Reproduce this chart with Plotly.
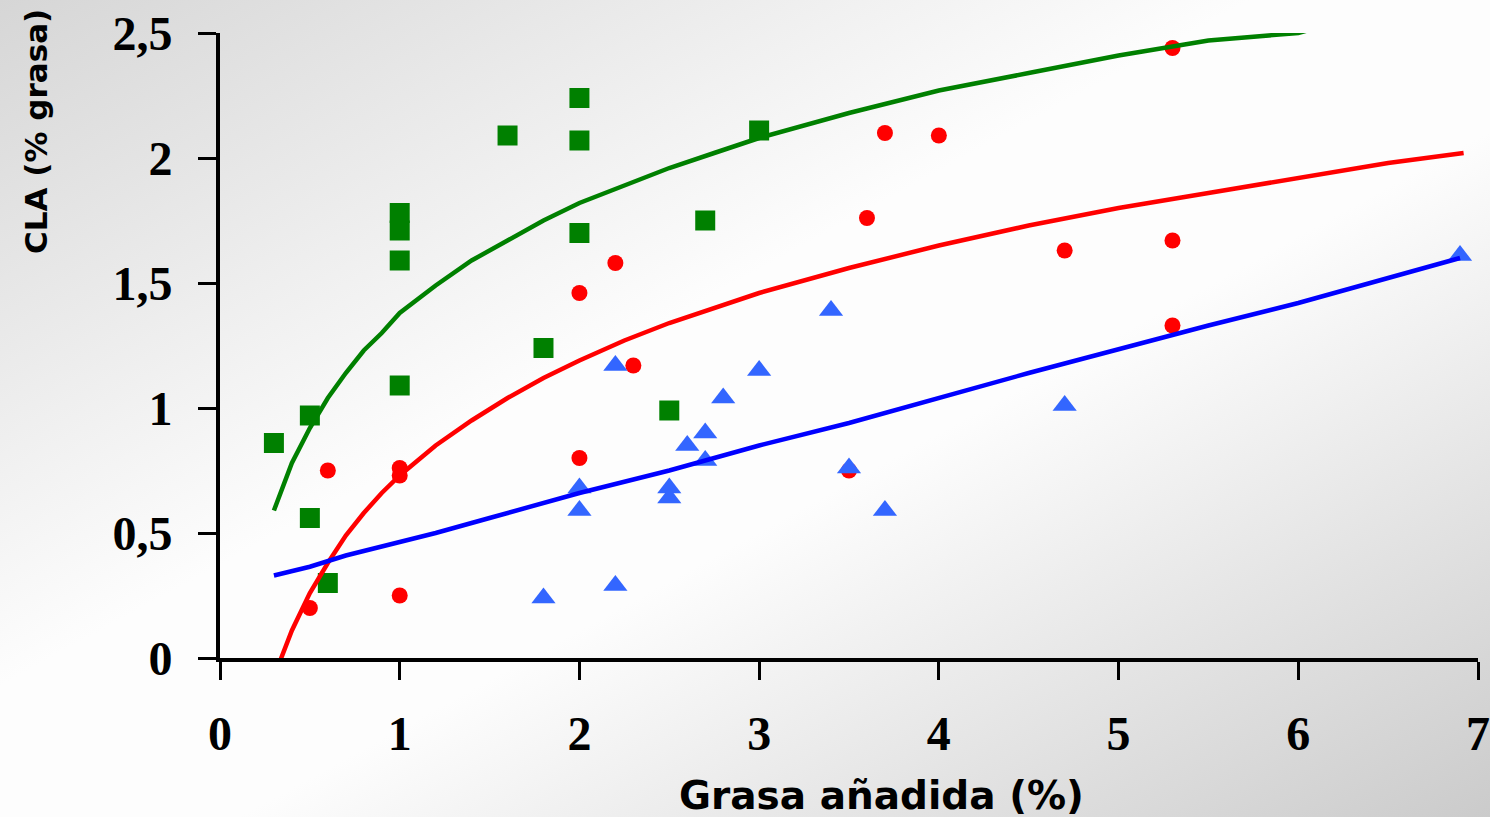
import base64
import plotly.graph_objects as go

# ---------------- data ----------------
green_x = [0.3, 0.5, 0.5, 0.6, 1.0, 1.0, 1.0, 1.0, 1.6, 1.8, 2.0, 2.0, 2.0, 2.5, 2.7, 3.0]
green_y = [0.86, 0.97, 0.56, 0.30, 1.78, 1.71, 1.59, 1.09, 2.09, 1.24, 2.24, 2.07, 1.70, 0.99, 1.75, 2.11]

red_x = [0.5, 0.6, 1.0, 1.0, 1.0, 2.0, 2.0, 2.2, 2.3, 3.5, 3.6, 3.7, 4.0, 4.7, 5.3, 5.3, 5.3]
red_y = [0.20, 0.75, 0.76, 0.73, 0.25, 0.80, 1.46, 1.58, 1.17, 0.75, 1.76, 2.10, 2.09, 1.63, 2.44, 1.67, 1.33]

blue_x = [1.8, 2.0, 2.0, 2.2, 2.2, 2.5, 2.5, 2.6, 2.7, 2.7, 2.8, 3.0, 3.4, 3.5, 3.7, 4.7, 6.9]
blue_y = [0.24, 0.68, 0.59, 1.17, 0.29, 0.68, 0.64, 0.85, 0.90, 0.79, 1.04, 1.15, 1.39, 0.76, 0.59, 1.01, 1.61]

# trend curves
green_line_x = [0.3, 0.4, 0.5, 0.6, 0.7, 0.8, 0.9, 1.0, 1.2, 1.4, 1.6, 1.8, 2.0, 2.25, 2.5, 2.75,
                3.0, 3.5, 4.0, 4.5, 5.0, 5.5, 6.0, 6.05]
green_line_y = [0.59, 0.78, 0.92, 1.04, 1.14, 1.23, 1.30, 1.38, 1.49, 1.59, 1.67, 1.75, 1.82, 1.89,
                1.96, 2.02, 2.08, 2.18, 2.27, 2.34, 2.41, 2.47, 2.50, 2.51]

red_line_x = [0.33, 0.4, 0.5, 0.6, 0.7, 0.8, 0.9, 1.0, 1.2, 1.4, 1.6, 1.8, 2.0, 2.25, 2.5, 2.75,
              3.0, 3.5, 4.0, 4.5, 5.0, 5.5, 6.0, 6.5, 6.92]
red_line_y = [-0.02, 0.11, 0.26, 0.38, 0.49, 0.58, 0.66, 0.73, 0.85, 0.95, 1.04, 1.12, 1.19, 1.27,
              1.34, 1.40, 1.46, 1.56, 1.65, 1.73, 1.80, 1.86, 1.92, 1.98, 2.02]

blue_line_x = [0.3, 0.5, 0.7, 1.0, 1.2, 1.5, 2.0, 2.5, 3.0, 3.5, 4.0, 4.5, 5.0, 5.5, 6.0, 6.5, 6.9]
blue_line_y = [0.33, 0.365, 0.41, 0.465, 0.50, 0.56, 0.66, 0.75, 0.85, 0.94, 1.04, 1.14, 1.235,
               1.33, 1.42, 1.52, 1.60]

x_tickvals = [0, 1, 2, 3, 4, 5, 6, 7]
x_ticktext = ["0", "1", "2", "3", "4", "5", "6", "7"]
y_tickvals = [0, 0.5, 1, 1.5, 2, 2.5]
y_ticktext = ["0", "0,5", "1", "1,5", "2", "2,5"]

x_title = "Grasa añadida (%)"
y_title = "CLA (% grasa)"

# ---------------- figure ----------------
W, H = 1490, 817
ML, MR, MT, MB = 220, 12, 33, 159
PW, PH = W - ML - MR, H - MT - MB

GREEN = "#008000"
RED = "#FF0000"
BLUE_LINE = "#0000FF"
BLUE_MARK = "#3366FF"

fig = go.Figure()

fig.add_trace(go.Scatter(x=red_x, y=red_y, mode="markers",
                         marker=dict(symbol="circle", size=16, color=RED, line=dict(width=0)),
                         showlegend=False))
fig.add_trace(go.Scatter(x=green_x, y=green_y, mode="markers",
                         marker=dict(symbol="square", size=20, color=GREEN, line=dict(width=0)),
                         showlegend=False))
fig.add_trace(go.Scatter(x=blue_x, y=blue_y, mode="markers",
                         marker=dict(symbol="triangle-up", size=21, color=BLUE_MARK, line=dict(width=0)),
                         showlegend=False))

fig.add_trace(go.Scatter(x=red_line_x, y=red_line_y, mode="lines",
                         line=dict(color=RED, width=4.5), showlegend=False))
fig.add_trace(go.Scatter(x=blue_line_x, y=blue_line_y, mode="lines",
                         line=dict(color=BLUE_LINE, width=4.5), showlegend=False))
fig.add_trace(go.Scatter(x=green_line_x, y=green_line_y, mode="lines",
                         line=dict(color=GREEN, width=4.5), showlegend=False))

tick_font = dict(family="Liberation Serif", size=48, color="black", weight="bold")

fig.update_xaxes(range=[0, 7], tickvals=x_tickvals, ticktext=x_ticktext, automargin=False,
                 showgrid=False, zeroline=False, showline=True, linecolor="black", linewidth=4,
                 ticks="outside", ticklen=18, tickwidth=3, tickcolor="black",
                 tickfont=tick_font, ticklabelstandoff=12)
fig.update_yaxes(range=[0, 2.5], tickvals=y_tickvals, ticktext=y_ticktext, automargin=False,
                 showgrid=False, zeroline=False, showline=True, linecolor="black", linewidth=4,
                 ticks="outside", ticklen=18, tickwidth=3, tickcolor="black",
                 tickfont=tick_font, ticklabelstandoff=16)

svg = (
    f"<svg xmlns='http://www.w3.org/2000/svg' width='{W}' height='{H}' viewBox='0 0 {W} {H}' "
    "preserveAspectRatio='none'><defs><linearGradient id='g' x1='0' y1='0' x2='1' y2='1'>"
    "<stop offset='0' stop-color='#d6d6d6'/><stop offset='0.42' stop-color='#fdfdfd'/>"
    "<stop offset='0.58' stop-color='#fdfdfd'/><stop offset='1' stop-color='#cbcbcb'/>"
    f"</linearGradient></defs><rect width='{W}' height='{H}' fill='url(#g)'/></svg>"
)
src = "data:image/svg+xml;base64," + base64.b64encode(svg.encode()).decode()

fig.add_layout_image(dict(source=src, xref="paper", yref="paper",
                          x=-ML / PW, y=1 + MT / PH, sizex=W / PW, sizey=H / PH,
                          xanchor="left", yanchor="top", sizing="stretch", layer="below"))

fig.add_annotation(text=x_title, xref="paper", yref="paper",
                   x=(881 - ML) / PW, y=(H - MB - 795) / PH, xanchor="center", yanchor="middle",
                   showarrow=False,
                   font=dict(family="DejaVu Sans", size=39, color="black", weight="bold"))
fig.add_annotation(text=y_title, xref="paper", yref="paper", textangle=-90,
                   x=(36 - ML) / PW, y=(H - MB - 132) / PH, xanchor="center", yanchor="middle",
                   showarrow=False,
                   font=dict(family="DejaVu Sans", size=31, color="black", weight="bold"))

fig.update_layout(width=W, height=H, autosize=False,
                  margin=dict(l=ML, r=MR, t=MT, b=MB, pad=0, autoexpand=False),
                  paper_bgcolor="white", plot_bgcolor="rgba(0,0,0,0)",
                  showlegend=False)

fig.write_html("out.html", config={"displayModeBar": False},
               post_script="document.body.style.margin='0';document.body.style.overflow='hidden';")
